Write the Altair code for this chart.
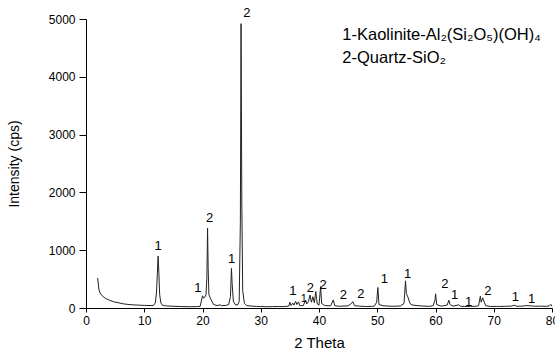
import altair as alt
import pandas as pd

# XRD pattern (2 theta, intensity in cps)
two_theta = [2.0, 2.2, 2.4, 2.8, 3.3, 4.0, 4.7, 5.5, 6.4, 7.2, 8.0, 9.0, 10.0, 11.0, 11.6,
             11.9, 12.1, 12.25, 12.38, 12.5, 12.65, 12.85, 13.1, 13.5, 14.0, 15.0, 16.0, 17.0, 18.0, 19.0,
             19.6, 19.8, 20.0, 20.2, 20.4, 20.6, 20.75, 20.87, 20.97, 21.1, 21.4, 21.6, 21.9, 22.5,
             23.0, 23.3, 24.0, 24.5, 24.8, 24.97, 25.1, 25.3, 25.6, 26.0, 26.3, 26.5, 26.62, 26.75,
             26.9, 27.2, 27.6, 28.5, 29.3, 30.0, 31.0, 32.0, 33.0, 34.0, 34.8,
             35.0, 35.2, 35.5, 35.7, 36.0, 36.2, 36.5, 36.7, 37.3, 37.7, 37.9, 38.2, 38.45, 38.7,
             38.95, 39.2, 39.45, 39.7, 40.0, 40.28, 40.45, 41.0, 42.0, 42.45, 42.7, 43.5, 44.3, 45.0,
             45.6, 45.8, 46.1, 47.0, 48.0, 49.0, 49.5, 49.9, 50.1, 50.3, 51.0, 52.0, 53.0, 54.0,
             54.6, 54.85, 55.0, 55.3, 55.6, 56.0, 57.0, 58.0, 59.0, 59.6, 59.9, 60.02, 60.2, 61.0,
             62.0, 62.3, 62.5, 63.0, 64.0, 64.3, 65.0, 66.0, 67.0, 67.4, 67.7, 67.85, 68.1, 68.3,
             68.6, 69.5, 70.5, 71.0, 72.0, 73.0, 73.5, 74.0, 75.0, 75.5, 76.5, 77.0, 78.0, 79.0,
             79.6, 79.8, 80.0]
intensity = [520, 330, 260, 210, 168, 135, 110, 92, 72, 62, 55, 50, 45, 42, 45,
             90, 260, 600, 900, 620, 230, 90, 50, 40, 35, 30, 26, 24, 22, 24,
             28, 120, 210, 170, 190, 230, 520, 1380, 700, 230, 160, 120, 60, 42,
             55, 40, 45, 60, 200, 685, 400, 120, 60, 50, 110, 1500, 4920, 1800,
             300, 80, 42, 32, 28, 25, 22, 24, 26, 24, 32,
             100, 42, 85, 50, 115, 60, 105, 40, 42, 135, 70, 115, 225, 100,
             195, 90, 285, 70, 50, 370, 80, 42, 38, 140, 40, 30, 34, 38,
             80, 110, 40, 32, 26, 28, 32, 100, 355, 60, 40, 32, 30, 36,
             80, 470, 250, 180, 80, 52, 40, 32, 30, 40, 130, 245, 60, 32,
             50, 135, 60, 32, 55, 30, 26, 28, 30, 40, 205, 100, 175, 120,
             40, 26, 28, 26, 30, 32, 48, 30, 32, 42, 36, 30, 32, 28,
             40, 62, 30]

# peak labels (1 = kaolinite, 2 = quartz)
label_x = [12.4, 19.2, 21.2, 25.0, 27.6, 35.5, 37.4, 38.5, 40.7, 44.2, 47.2, 51.2, 55.2,
           61.6, 63.3, 65.7, 69.0, 73.7, 76.5]
label_y = [1070, 340, 1560, 845, 5110, 300, 150, 350, 400, 225, 240, 500, 590,
           415, 225, 110, 300, 185, 155]
label_text = ["1", "1", "2", "1", "2", "1", "1", "2", "2", "2", "2", "1", "1",
              "2", "1", "1", "2", "1", "1"]
label_size = [13, 13, 13, 13, 13, 13, 11, 13, 13, 13, 13, 13, 13,
              13, 13, 13, 13, 13, 13]

legend_x = [44.0, 44.0]
legend_y = [4725, 4325]
legend_text = ["1-Kaolinite-Al₂(Si₂O₅)(OH)₄", "2-Quartz-SiO₂"]

FONT = "Liberation Sans"

pattern = pd.DataFrame({"theta": two_theta, "cps": intensity})
labels = pd.DataFrame({"theta": label_x, "cps": label_y, "txt": label_text, "size": label_size})
legend = pd.DataFrame({"theta": legend_x, "cps": legend_y, "txt": legend_text})

x_scale = alt.Scale(domain=[0, 80], nice=False, zero=False)
y_scale = alt.Scale(domain=[0, 5000], nice=False)

x_axis = alt.Axis(
    title="2 Theta", values=list(range(0, 81, 5)),
    labelExpr="datum.value % 10 == 0 ? datum.label : ''",
    grid=False, tickSize=4, tickColor="black", domainColor="black",
    labelFont=FONT, labelFontSize=12, labelColor="black", labelPadding=3,
    titleFont=FONT, titleFontSize=15, titleFontWeight="normal", titleColor="black",
    titlePadding=9, labelFlush=False, labelOverlap=False,
)
y_axis = alt.Axis(
    title="Intensity (cps)", values=list(range(0, 5001, 500)),
    labelExpr="datum.value % 1000 == 0 ? datum.label : ''",
    format="d",
    grid=False,
    tickSize={"condition": {"test": "datum.value % 1000 == 0", "value": 7}, "value": 4},
    tickColor="black", domainColor="black",
    labelFont=FONT, labelFontSize=12, labelColor="black", labelPadding=4,
    titleFont=FONT, titleFontSize=14, titleFontWeight="normal", titleColor="black",
    titlePadding=27, labelFlush=False, labelOverlap=False,
)

line = alt.Chart(pattern).mark_line(color="#222222", strokeWidth=1, interpolate="linear").encode(
    x=alt.X("theta:Q", scale=x_scale, axis=x_axis),
    y=alt.Y("cps:Q", scale=y_scale, axis=y_axis),
)

peak_text = alt.Chart(labels).mark_text(
    font=FONT, color="black", baseline="middle", align="center"
).encode(
    x=alt.X("theta:Q", scale=x_scale),
    y=alt.Y("cps:Q", scale=y_scale),
    text="txt:N",
    size=alt.Size("size:Q", scale=None, legend=None),
)

legend_text_layer = alt.Chart(legend).mark_text(
    font=FONT, fontSize=16.5, color="black", baseline="middle", align="left"
).encode(
    x=alt.X("theta:Q", scale=x_scale),
    y=alt.Y("cps:Q", scale=y_scale),
    text="txt:N",
)

chart = alt.layer(line, peak_text, legend_text_layer).properties(
    width=466, height=289,
    autosize=alt.AutoSizeParams(type="none"),
    padding={"left": 86, "top": 19, "right": 3, "bottom": 46},
    background="white",
).configure_view(stroke=None)

chart.save("out.html", embed_options={"renderer": "svg", "actions": False})
